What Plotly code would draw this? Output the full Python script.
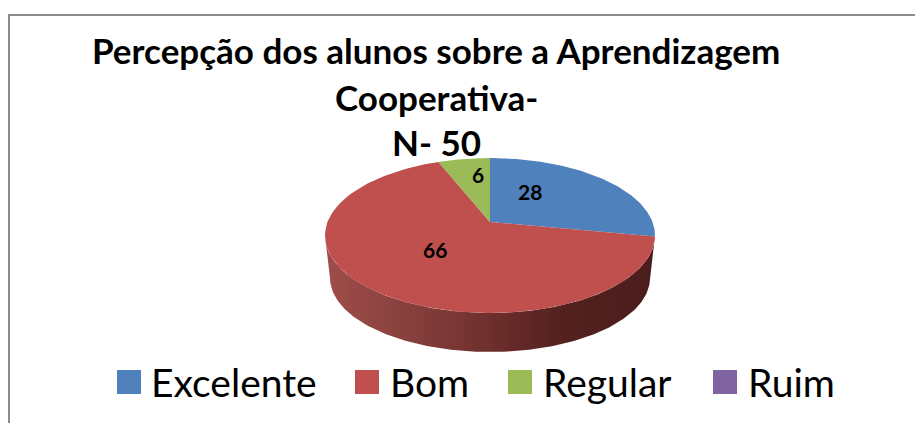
import numpy as np
import plotly.graph_objects as go

categories = ["Excelente", "Bom", "Regular", "Ruim"]
values = [28, 66, 6, 0]
colors = ["#4f81bd", "#c0504d", "#9bbb59", "#8064a2"]
title_lines = ["Percepção dos alunos sobre a Aprendizagem", "Cooperativa-", "N- 50"]

W, H = 915, 423
FONT = "Lato"

# perspective geometry of the pie's top face (paper pixels)
APEX_X, APEX_Y = 490.0, 222.0
K, A, B = 0.174, 162.5, 75.1


def project(theta, rho=1.0):
    d = 1 + K * rho * np.cos(theta)
    return APEX_X + A * rho * np.sin(theta) / d, APEX_Y - B * rho * np.cos(theta) / d


fig = go.Figure()

# side wall: front half of the rim plus a slightly smaller lower rim
t = np.linspace(np.pi, 2 * np.pi, 160)
top_x, top_y = 490 + 165 * np.cos(t), 235.5 - 77.5 * np.sin(t)
low_x, low_y = 490 + 160 * np.cos(t), 278 - 74 * np.sin(t)
fig.add_trace(go.Scatter(
    x=np.r_[top_x, low_x[::-1]], y=np.r_[top_y, low_y[::-1]],
    mode="lines", line=dict(width=0), fill="toself", hoverinfo="skip",
    fillgradient=dict(type="horizontal", colorscale=[
        [0, "#a04d4a"], [0.25, "#87403d"], [0.5, "#6e2f2d"],
        [0.72, "#53211f"], [1, "#4a1d1c"]]),
))

# top face slices
total = sum(values)
start = 0.0
for cat, val, col in zip(categories, values, colors):
    end = start + val / total * 2 * np.pi
    if val > 0:
        th = np.linspace(start, end, 120)
        rx, ry = project(th)
        fig.add_trace(go.Scatter(
            x=np.r_[APEX_X, rx, APEX_X], y=np.r_[APEX_Y, ry, APEX_Y],
            mode="lines", line=dict(width=0), fill="toself", fillcolor=col,
            name=cat, hoverinfo="name",
        ))
    start = end

annotations = []

# title
for line, yc in zip(title_lines, [50, 97, 142]):
    annotations.append(dict(x=436, y=yc, text=line, showarrow=False, xanchor="center", yanchor="middle",
                            font=dict(family=FONT, size=35, color="black", weight="bold")))

# data labels
for val, (lx, ly) in zip(values[:3], [(530, 191), (435, 249), (478, 174)]):
    annotations.append(dict(x=lx, y=ly, text=str(val), showarrow=False, xanchor="center", yanchor="middle",
                            font=dict(family=FONT, size=21, color="black", weight="bold")))

# legend
swatch_x = [129, 367, 520, 725]
label_x = [153, 392, 545, 750]
for cat, col, sx, tx in zip(categories, colors, swatch_x, label_x):
    fig.add_trace(go.Scatter(x=[sx], y=[382], mode="markers", name=cat, hoverinfo="name",
                             marker=dict(symbol="square", size=24, color=col, line=dict(width=0))))
    annotations.append(dict(x=tx, y=382, text=cat, showarrow=False, xanchor="left", yanchor="middle", xshift=-4,
                            font=dict(family=FONT, size=39, color="black")))

shapes = [
    dict(type="line", x0=8, x1=915, y0=15, y1=15, line=dict(color="#8c8c8c", width=2)),
    dict(type="line", x0=9, x1=9, y0=15, y1=423, line=dict(color="#8c8c8c", width=2)),
]

fig.update_layout(
    width=W, height=H, margin=dict(l=0, r=0, t=0, b=0), showlegend=False,
    paper_bgcolor="white", plot_bgcolor="white",
    xaxis=dict(range=[0, W], visible=False, fixedrange=True),
    yaxis=dict(range=[H, 0], visible=False, fixedrange=True),
    annotations=annotations, shapes=shapes,
)
fig.write_html("out.html", config=dict(displayModeBar=False),
               post_script="document.body.style.margin='0';document.documentElement.style.overflow='hidden';")
